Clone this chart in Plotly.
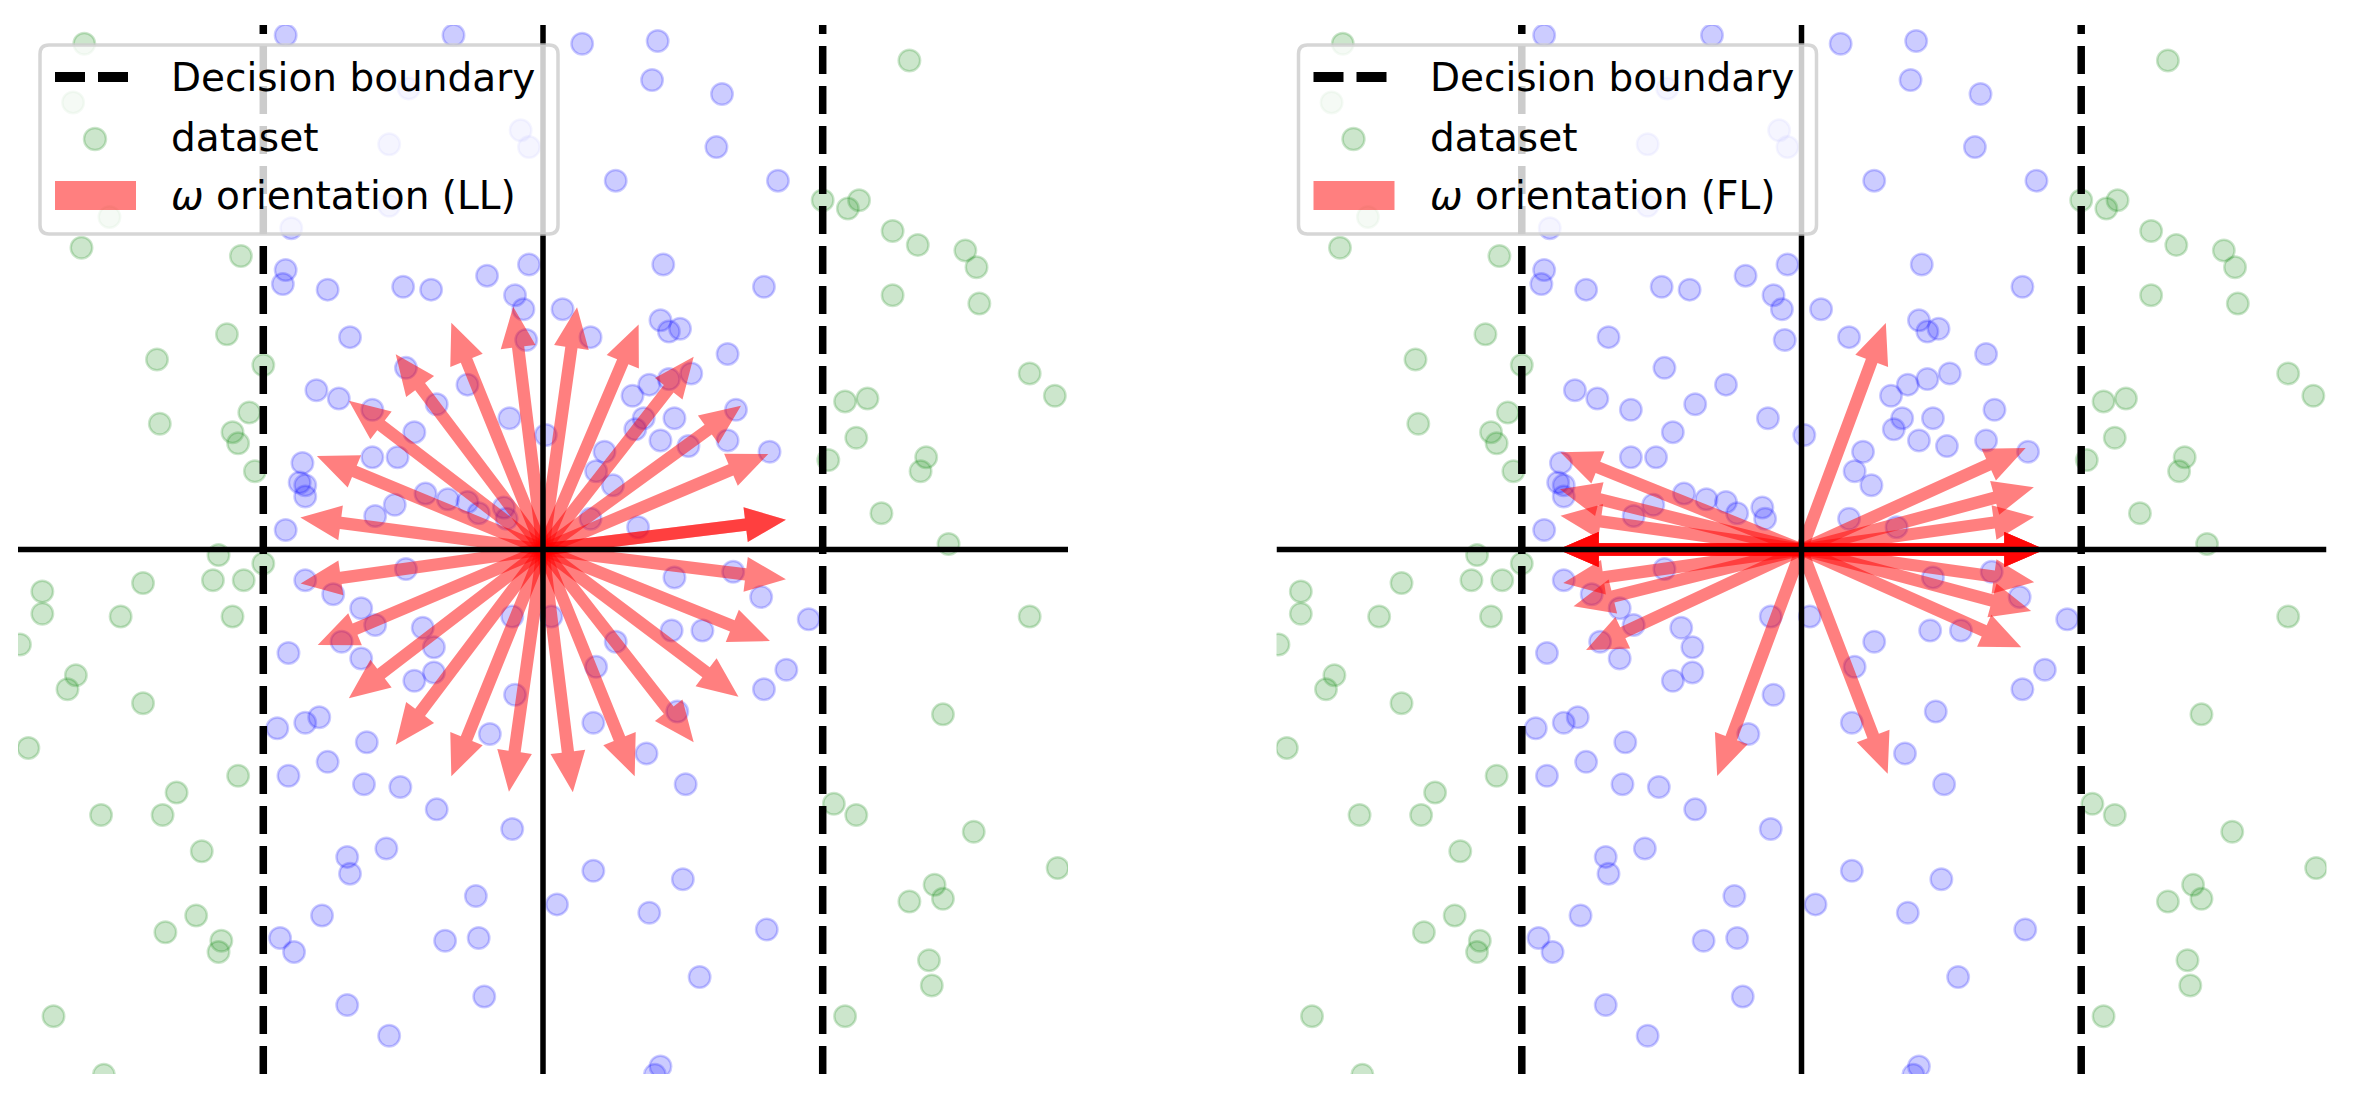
import numpy as np
import plotly.graph_objects as go

W, H = 2355, 1103

# ---------------- data (data units) ----------------
inside_x = [-0.92, -0.32, 0.14, 0.41, 0.39, 0.64, 0.62, 0.26,
            -0.48, -0.55, -0.55, -0.90, -0.08, -0.05, 0.84,
            -0.92, -0.93, -0.77, -0.50, -0.40, -0.20, -0.05, -0.10, -0.07, -0.06,
            -0.69, -0.49, -0.27, -0.81, -0.73, -0.61, -0.38, -0.12, -0.46, 0.01,
            -0.61, -0.52, -0.86, -0.87, -0.85, -0.85, -0.42, -0.34, -0.27, -0.23, -0.14, -0.13, -0.60, -0.53, -0.92,
            0.07, 0.17, 0.43, 0.42, 0.45, 0.49, 0.32, 0.38, 0.45, 0.53, 0.33, 0.36, 0.42, 0.47, 0.52, 0.22, 0.19, 0.25,
            0.17, 0.34, 0.47, 0.46, 0.57, -0.11, 0.03, 0.26, 0.19, -0.10, 0.48, 0.18,
            -0.85, -0.75, -0.65, -0.60, -0.72, -0.65, -0.91, -0.49, -0.43, -0.39, -0.39, -0.46, -0.95, -0.85, -0.80,
            0.79, 0.66, 0.69, 0.66, 0.81, 0.68, 0.78, 0.95, 0.87, 0.79,
            -0.91, -0.63, -0.77, -0.64, -0.51, -0.38, -0.19, -0.11, 0.37, 0.51,
            -0.70, -0.69, -0.56, -0.79, -0.94, -0.89, -0.35, -0.24, -0.23, 0.05, 0.18, 0.38, 0.50, 0.56, 0.42,
            -0.21, -0.70, -0.55, 0.80, 0.40]
inside_y = [1.84, 1.84, 1.81, 1.82, 1.68, 1.63, 1.44, 1.32,
            1.65, 1.45, 1.23, 1.15, 1.50, 1.44, 1.32,
            1.00, 0.95, 0.93, 0.94, 0.93, 0.98, 1.02, 0.91, 0.86, 0.75,
            0.76, 0.65, 0.59, 0.57, 0.54, 0.50, 0.52, 0.47, 0.42, 0.41,
            0.33, 0.33, 0.31, 0.24, 0.23, 0.19, 0.20, 0.18, 0.17, 0.13, 0.15, 0.11, 0.12, 0.16, 0.07,
            0.86, 0.76, 1.02, 0.82, 0.78, 0.79, 0.55, 0.59, 0.61, 0.63, 0.43, 0.47, 0.39, 0.47, 0.37, 0.35, 0.28, 0.23,
            0.11, 0.08, -0.10, -0.29, -0.29, -0.24, -0.24, -0.33, -0.42, -0.52, -0.58, -0.62,
            -0.11, -0.16, -0.21, -0.27, -0.33, -0.39, -0.37, -0.07, -0.28, -0.35, -0.44, -0.47, -0.64, -0.62, -0.60,
            0.94, 0.70, 0.50, 0.39, 0.35, -0.08, -0.17, -0.25, -0.43, -0.50,
            -0.81, -0.69, -0.76, -0.84, -0.85, -0.93, -0.66, -1.00, -0.73, -0.84,
            -1.10, -1.16, -1.07, -1.31, -1.39, -1.44, -1.40, -1.24, -1.39, -1.27, -1.15, -1.30, -1.18, -1.53, -1.85,
            -1.60, -1.63, -1.74, -1.36, -1.88]

outside_x = [-1.64, -1.68, -1.55, -1.65, -1.08, -1.13, -1.38, -1.00, -1.05, -1.37, -1.11, -1.09, -1.03,
             -1.16, -1.18, -1.07, -1.79, -1.79, -1.43, -1.51, -1.11, -1.87, -1.67, -1.70, -1.43, -1.00,
             -1.84, -1.31, -1.09, -1.58, -1.36, -1.22, -1.24, -1.35, -1.15, -1.16, -1.75, -1.57,
             1.31, 1.00, 1.09, 1.13, 1.25, 1.34, 1.51, 1.55, 1.56, 1.25, 1.74, 1.83, 1.08, 1.16, 1.12,
             1.02, 1.37, 1.35, 1.21, 1.45, 1.74, 1.43, 1.04, 1.12, 1.54, 1.84, 1.40, 1.43, 1.31, 1.38,
             1.39, 1.08]
outside_y = [1.81, 1.60, 1.19, 1.08, 1.05, 0.77, 0.68, 0.66, 0.49, 0.45, 0.42, 0.38, 0.28,
             -0.02, -0.11, -0.11, -0.15, -0.23, -0.12, -0.24, -0.24, -0.34, -0.45, -0.50, -0.55, -0.05,
             -0.71, -0.87, -0.81, -0.95, -0.95, -1.08, -1.31, -1.37, -1.40, -1.44, -1.67, -1.88,
             1.75, 1.25, 1.22, 1.25, 1.14, 1.09, 1.07, 1.01, 0.88, 0.91, 0.63, 0.55, 0.53, 0.54, 0.40,
             0.32, 0.33, 0.28, 0.13, 0.02, -0.24, -0.59, -0.91, -0.95, -1.01, -1.14, -1.20, -1.25, -1.26, -1.47,
             -1.56, -1.67]

boundary_x = [-1.0, 1.0]
axis_lim = 1.877

# omega orientations: angle (deg) and length (data units)
ll_angles = [7, 7, 23, 36, 52, 67, 82, 97, 112, 127, 142.5, 157.5, 172.5, 188, 203, 217.5,
             233, 248, 262, 277, 292, 308, 323, 338, 353]
ll_lengths = [0.875] * 25
fl_angles = [69.6, 249.6, 291, 24.4, 15, 8, 0, 0, 0, 0, -8, -15, -24,
             158, 166, 172, 180, 180, 180, 180, 188, 194, 205, 0, 180]
fl_lengths = [0.865, 0.865, 0.86, 0.88, 0.86, 0.84, 0.87, 0.87, 0.87, 0.87, 0.84, 0.85, 0.86,
              0.93, 0.89, 0.87, 0.87, 0.87, 0.87, 0.87, 0.86, 0.84, 0.85, 0.87, 0.87]

legend_labels = ["Decision boundary", "dataset"]
panel_tags = ["LL", "FL"]

# ---------------- styling ----------------
BLUE = "rgba(0,0,255,0.2)"
GREEN = "rgba(0,128,0,0.2)"
RED = "rgba(255,0,0,0.5)"
FONT = "DejaVu Sans"

fig = go.Figure()

x_domains = [[18 / W, 1068 / W], [1276.5 / W, 2326.5 / W]]
y_domain = [1 - 1074 / H, 1 - 25 / H]


def arrow_poly(ang, L, w=0.044, hw=0.125, hl=0.145):
    a = np.deg2rad(ang)
    u = np.array([np.cos(a), np.sin(a)])
    n = np.array([-u[1], u[0]])
    b = L - hl
    pts = [n * w / 2, u * b + n * w / 2, u * b + n * hw / 2, u * L,
           u * b - n * hw / 2, u * b - n * w / 2, -n * w / 2, n * w / 2]
    pts = np.array(pts)
    return pts[:, 0], pts[:, 1]


for k, (angs, lens) in enumerate([(ll_angles, ll_lengths), (fl_angles, fl_lengths)]):
    xa = "x" if k == 0 else "x2"
    ya = "y" if k == 0 else "y2"
    fig.add_trace(go.Scatter(x=inside_x, y=inside_y, mode="markers", xaxis=xa, yaxis=ya,
                             marker=dict(size=21.5, color=BLUE, line=dict(color=BLUE, width=2.5)),
                             showlegend=False, hoverinfo="skip"))
    fig.add_trace(go.Scatter(x=outside_x, y=outside_y, mode="markers", xaxis=xa, yaxis=ya,
                             marker=dict(size=21.5, color=GREEN, line=dict(color=GREEN, width=2.5)),
                             showlegend=False, hoverinfo="skip"))
    for ang, L in zip(angs, lens):
        px, py = arrow_poly(ang, L)
        fig.add_trace(go.Scatter(x=px, y=py, mode="lines", fill="toself", fillcolor=RED,
                                 line=dict(width=0, color="rgba(0,0,0,0)"), xaxis=xa, yaxis=ya,
                                 showlegend=False, hoverinfo="skip"))
    fig.add_trace(go.Scatter(x=[-axis_lim, axis_lim], y=[0, 0], mode="lines", xaxis=xa, yaxis=ya,
                             line=dict(color="black", width=5.5), showlegend=False, hoverinfo="skip"))
    fig.add_trace(go.Scatter(x=[0, 0], y=[-axis_lim, axis_lim], mode="lines", xaxis=xa, yaxis=ya,
                             line=dict(color="black", width=5.5), showlegend=False, hoverinfo="skip"))
    for bx in boundary_x:
        fig.add_trace(go.Scatter(x=[bx, bx], y=[-axis_lim, axis_lim], mode="lines", xaxis=xa, yaxis=ya,
                                 line=dict(color="black", width=7.5, dash="28px,12px"),
                                 showlegend=False, hoverinfo="skip"))

ax_common = dict(showgrid=False, zeroline=False, showticklabels=False, ticks="", showline=False,
                 range=[-axis_lim, axis_lim], fixedrange=True)
fig.update_layout(
    width=W, height=H, autosize=False,
    margin=dict(l=0, r=0, t=0, b=0),
    paper_bgcolor="white", plot_bgcolor="white",
    showlegend=False,
    xaxis=dict(domain=x_domains[0], anchor="y", **ax_common),
    yaxis=dict(domain=y_domain, anchor="x", **ax_common),
    xaxis2=dict(domain=x_domains[1], anchor="y2", **ax_common),
    yaxis2=dict(domain=y_domain, anchor="x2", **ax_common),
)


def PX(x):
    return x / W


def PY(y):
    return 1 - y / H


shapes = []
annotations = []
for k, tag in enumerate(panel_tags):
    off = 0 if k == 0 else 1258.5
    x0, x1, y0, y1, r = 40 + off, 558 + off, 45, 234, 9
    path = (f"M {PX(x0 + r)},{PY(y0)} L {PX(x1 - r)},{PY(y0)} "
            f"Q {PX(x1)},{PY(y0)} {PX(x1)},{PY(y0 + r)} L {PX(x1)},{PY(y1 - r)} "
            f"Q {PX(x1)},{PY(y1)} {PX(x1 - r)},{PY(y1)} L {PX(x0 + r)},{PY(y1)} "
            f"Q {PX(x0)},{PY(y1)} {PX(x0)},{PY(y1 - r)} L {PX(x0)},{PY(y0 + r)} "
            f"Q {PX(x0)},{PY(y0)} {PX(x0 + r)},{PY(y0)} Z")
    shapes.append(dict(type="path", path=path, xref="paper", yref="paper", layer="above",
                       fillcolor="rgba(255,255,255,0.8)", line=dict(color="rgba(204,204,204,0.8)", width=3.5)))
    shapes.append(dict(type="line", xref="paper", yref="paper", layer="above",
                       x0=PX(55 + off), x1=PX(128 + off), y0=PY(77), y1=PY(77),
                       line=dict(color="black", width=10, dash="30px,13px")))
    shapes.append(dict(type="circle", xref="paper", yref="paper", layer="above",
                       x0=PX(84 + off), x1=PX(106 + off), y0=PY(128), y1=PY(150),
                       fillcolor=GREEN, line=dict(color=GREEN, width=2.5)))
    shapes.append(dict(type="rect", xref="paper", yref="paper", layer="above",
                       x0=PX(55 + off), x1=PX(136 + off), y0=PY(181), y1=PY(210),
                       fillcolor=RED, line=dict(width=0)))
    texts = [legend_labels[0], legend_labels[1], f"<i>ω</i> orientation ({tag})"]
    for t, yy in zip(texts, [77, 137, 195]):
        annotations.append(dict(text=t, x=PX(169 + off), y=PY(yy), xref="paper", yref="paper",
                                xanchor="left", yanchor="middle", showarrow=False,
                                font=dict(family=FONT, size=39, color="black")))

fig.update_layout(shapes=shapes, annotations=annotations)

fig.write_html("out.html", config={"displayModeBar": False},
               post_script="document.body.style.margin='0px';document.body.style.overflow='hidden';")
